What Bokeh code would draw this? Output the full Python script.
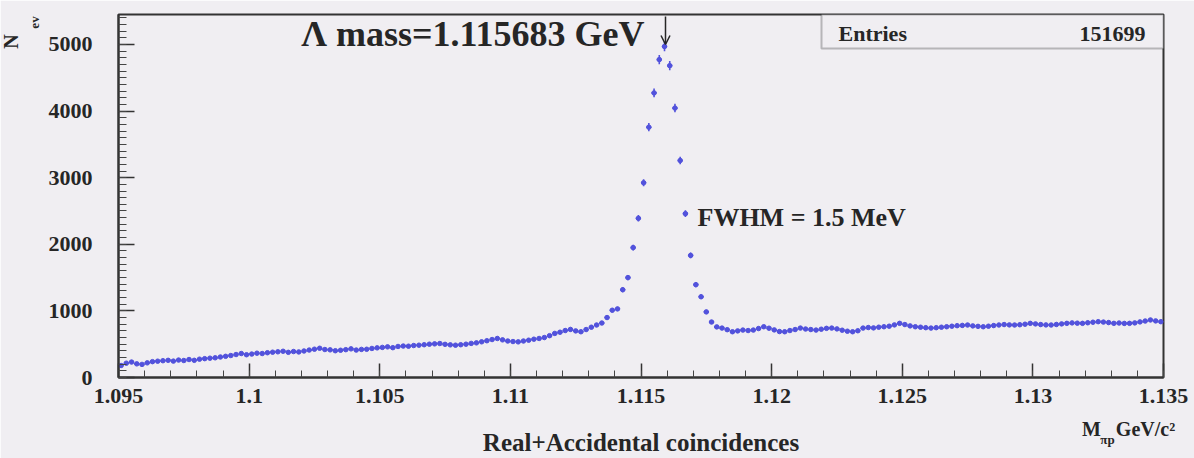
import numpy as np
from bokeh.plotting import figure
from bokeh.models import (Range1d, FixedTicker, CustomJSTickFormatter, Label, LinearAxis,
                          BoxAnnotation, Arrow, OpenHead, ColumnDataSource)
from bokeh.embed import file_html
from bokeh.resources import INLINE

# ---------------- data ----------------
hist_low = 1.095
hist_high = 1.135
bin_width = 0.0002
counts = [
    180, 215, 232, 205, 197, 220, 238, 245, 252, 258,
    246, 262, 255, 270, 258, 275, 283, 290, 296, 308,
    318, 330, 345, 360, 342, 352, 365, 360, 372, 380,
    386, 394, 378, 390, 384, 398, 412, 425, 439, 420,
    415, 402, 409, 418, 430, 412, 422, 424, 436, 445,
    452, 460, 448, 466, 472, 470, 480, 485, 492, 500,
    505, 510, 498, 490, 485, 492, 500, 512, 520, 536,
    552, 570, 586, 565, 548, 540, 535, 548, 560, 575,
    586, 600, 628, 662, 680, 705, 722, 700, 687, 720,
    755, 788, 818, 900, 1010, 1030, 1318, 1500, 1950, 2390,
    2924, 3758, 4273, 4773, 4970, 4682, 4045, 3258, 2460, 1833,
    1394, 1212, 985, 833, 760, 742, 718, 687, 700, 712,
    705, 712, 735, 762, 740, 715, 690, 687, 705, 720,
    742, 728, 720, 712, 725, 738, 742, 730, 710, 695,
    687, 702, 742, 750, 745, 755, 762, 770, 790, 813,
    795, 775, 762, 755, 748, 742, 748, 755, 762, 770,
    778, 782, 788, 775, 768, 762, 770, 780, 788, 795,
    790, 788, 792, 800, 813, 805, 795, 790, 788, 796,
    805, 813, 820, 816, 813, 822, 830, 838, 832, 825,
    813, 818, 812, 813, 820, 835, 848, 864, 850, 838,
]
x_major_ticks = [1.095, 1.1, 1.105, 1.11, 1.115, 1.12, 1.125, 1.13, 1.135]
x_tick_labels = ["1.095", "1.1", "1.105", "1.11", "1.115", "1.12", "1.125", "1.13", "1.135"]
y_major_ticks = [0, 1000, 2000, 3000, 4000, 5000]
y_top = 5450
entries = 151699
lambda_mass = 1.115683
fwhm_mev = 1.5
x_title = "Real+Accidental coincidences"
x_unit_main = ["M", "GeV/c\u00b2"]
x_unit_sub = ["\u03c0p"]

# ---------------- build ----------------
cnt = np.array(counts, dtype=float)
centers = hist_low + bin_width * (np.arange(len(cnt)) + 0.5)
err = np.sqrt(cnt)
src = ColumnDataSource(dict(x=centers, y=cnt,
                            xl=centers - bin_width / 2, xr=centers + bin_width / 2,
                            yl=cnt - err, yh=cnt + err))

W, H = 1194, 458
FL, FR, FT, FB = 118, 1163, 14, 377   # frame edges in page pixels
BG = "#f0eef2"
INK = "#262626"
BLUE = "#5252dc"
FONT = "Liberation Serif"

p = figure(width=W, height=H, output_backend="svg", toolbar_location=None,
           x_axis_location=None,
           x_range=Range1d(hist_low, hist_high), y_range=Range1d(0, y_top),
           min_border_left=FL, min_border_right=W - FR,
           min_border_top=FT, min_border_bottom=H - FB)
p.background_fill_color = BG
p.border_fill_color = BG
p.outline_line_color = "#333333"
p.outline_line_width = 2
p.xgrid.visible = False
p.ygrid.visible = False


def dx(px):
    return hist_low + (px - FL) / (FR - FL) * (hist_high - hist_low)


def dy(py):
    return (FB - py) / (FB - FT) * y_top


p.segment("xl", "y", "xr", "y", source=src, line_color=BLUE, line_width=1.6)
p.segment("x", "yl", "x", "yh", source=src, line_color=BLUE, line_width=1.6)
p.scatter("x", "y", source=src, marker="circle", size=4.5,
          fill_color=BLUE, line_color=BLUE)

# main x axis
xminor = [round(v, 3) for v in np.arange(1.095, 1.13501, 0.001)]
xaxis = LinearAxis(ticker=FixedTicker(ticks=x_major_ticks, minor_ticks=xminor),
                   formatter=CustomJSTickFormatter(code="return String(Number(tick.toPrecision(6)))"),
                   major_label_overrides={t: l for t, l in zip(x_major_ticks, x_tick_labels)},
                   axis_label=x_title)
p.add_layout(xaxis, "below")
p.yaxis.ticker = FixedTicker(ticks=y_major_ticks, minor_ticks=list(range(0, 5401, 100)))

for ax, mlen, mnlen, fs, so in ((xaxis, 14, 7, "22px", 11), (p.yaxis[0], 16, 8, "22px", 26)):
    ax.axis_line_color = "#333333"
    ax.axis_line_width = 2
    ax.major_tick_in = mlen
    ax.major_tick_out = 0
    ax.minor_tick_in = mnlen
    ax.minor_tick_out = 0
    ax.major_tick_line_color = "#333333"
    ax.major_tick_line_width = 1.5
    ax.minor_tick_line_color = "#444444"
    ax.minor_tick_line_width = 1
    ax.major_label_text_font = FONT
    ax.major_label_text_font_style = "bold"
    ax.major_label_text_font_size = fs
    ax.major_label_text_color = INK
    ax.major_label_standoff = so
xaxis.axis_label_text_font = FONT
xaxis.axis_label_text_font_style = "bold"
xaxis.axis_label_text_font_size = "25px"
xaxis.axis_label_text_color = INK
xaxis.axis_label_standoff = 23


def text_axis(names, centers_px, size, standoff):
    ax = LinearAxis(ticker=FixedTicker(ticks=[dx(c) for c in centers_px], minor_ticks=[]),
                    formatter=CustomJSTickFormatter(args=dict(names=names), code="return names[index]"),
                    axis_line_color=None, major_tick_line_color=None, minor_tick_line_color=None,
                    major_tick_in=0, major_tick_out=0, minor_tick_in=0, minor_tick_out=0,
                    major_label_standoff=standoff, major_label_text_font=FONT,
                    major_label_text_font_style="bold", major_label_text_font_size=f"{size}px",
                    major_label_text_color=INK)
    p.add_layout(ax, "below")


text_axis(x_unit_main, [1091, 1145], 20, -41)
text_axis(x_unit_sub, [1107], 13, -27)


def lab(text, px, py, size, align="left", baseline="middle", angle=0.0):
    p.add_layout(Label(x=dx(px), y=dy(py), text=text, text_font=FONT,
                       text_font_style="bold", text_font_size=f"{size}px",
                       text_align=align, text_baseline=baseline,
                       text_color=INK, angle=angle))


def left_lab(text, x, py, size):
    p.add_layout(Label(x=x, x_units="screen", y=dy(py), text=text, text_font=FONT,
                       text_font_style="bold", text_font_size=f"{size}px",
                       text_align="center", text_baseline="middle", text_color=INK,
                       angle=np.pi / 2), "left")


# stats box
p.add_layout(BoxAnnotation(left=dx(821), right=dx(1163), top=dy(14), bottom=dy(48),
                           fill_color=BG, fill_alpha=1.0,
                           line_color="#333333", line_width=2, level="annotation"))
lab("Entries", 838, 33, 22)
lab(str(entries), 1145, 33, 22, align="right")

# annotations
lab(f"\u039b mass={lambda_mass:.6f} GeV", 644, 33, 36, align="right")
p.add_layout(Arrow(x_start=dx(665), y_start=dy(16), x_end=dx(665), y_end=dy(44),
                   line_color=INK, line_width=1.5,
                   end=OpenHead(size=9, line_width=1.5, line_color=INK)))
lab(f"FWHM = {fwhm_mev} MeV", 697, 217, 26)

# y title (N_ev), rotated, in the left border panel
left_lab("N", -13, 41, 20)
left_lab("ev", 26, 22, 13)

html = file_html(p, INLINE)
html = html.replace("<body>", f'<body style="background:{BG}">', 1)
open("out.html", "w").write(html)
